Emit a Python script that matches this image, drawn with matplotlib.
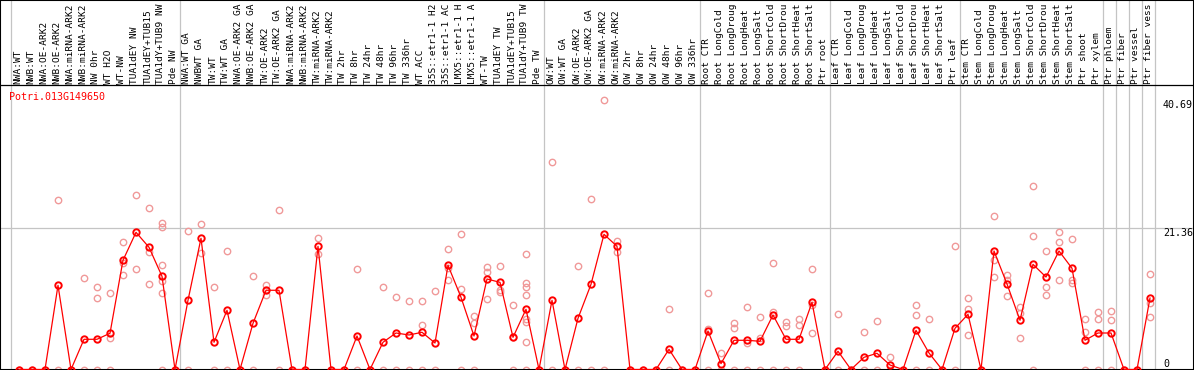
import matplotlib
matplotlib.use("Agg")
import matplotlib.pyplot as plt
import matplotlib.transforms as mtransforms

gene = "Potri.013G149650"

labels = [
    "NWA:WT", "NWB:WT", "NWA:OE-ARK2", "NWB:OE-ARK2", "NWA:miRNA-ARK2", "NWB:miRNA-ARK2",
    "NW 0hr", "WT H2O", "WT-NW", "TUA1dEY NW", "TUA1dEY+TUB15", "TUA1dY+TUB9 NW", "Pde NW",
    "NWA:WT GA", "NWBWT GA", "TW:WT", "TW:WT GA", "NWA:OE-ARK2 GA", "NWB:OE-ARK2 GA",
    "TW:OE-ARK2", "TW:OE-ARK2 GA", "NWA:miRNA-ARK2", "NWB:miRNA-ARK2", "TW:miRNA-ARK2",
    "TW:miRNA-ARK2", "TW 2hr", "TW 8hr", "TW 24hr", "TW 48hr", "TW 96hr", "TW 336hr",
    "WT ACC", "35S::etr1-1 H2", "35S::etr1-1 AC", "LMX5::etr1-1 H", "LMX5::etr1-1 A",
    "WT-TW", "TUA1dEY TW", "TUA1dEY+TUB15", "TUA1dY+TUB9 TW", "Pde TW",
    "OW:WT", "OW:WT GA", "OW:OE-ARK2", "OW:OE-ARK2 GA", "OW:miRNA-ARK2", "OW:miRNA-ARK2",
    "OW 2hr", "OW 8hr", "OW 24hr", "OW 48hr", "OW 96hr", "OW 336hr",
    "Root CTR", "Root LongCold", "Root LongDroug", "Root LongHeat", "Root LongSalt",
    "Root ShortCold", "Root ShortDrou", "Root ShortHeat", "Root ShortSalt", "Ptr root",
    "Leaf CTR", "Leaf LongCold", "Leaf LongDroug", "Leaf LongHeat", "Leaf LongSalt",
    "Leaf ShortCold", "Leaf ShortDrou", "Leaf ShortHeat", "Leaf ShortSalt", "Ptr leaf",
    "Stem CTR", "Stem LongCold", "Stem LongDroug", "Stem LongHeat", "Stem LongSalt",
    "Stem ShortCold", "Stem ShortDrou", "Stem ShortHeat", "Stem ShortSalt", "Ptr shoot",
    "Ptr xylem", "Ptr phloem", "Ptr fiber", "Ptr vessel", "Ptr fiber vess",
]

means = [
    0, 0, 0, 12.71, 0, 4.56, 4.56, 5.47, 16.49, 20.71, 18.45, 14.07, 0,
    10.45, 19.81, 4.11, 8.94, 0, 6.97, 11.96, 11.96, 0, 0, 18.60, 0, 0,
    5.06, 0, 4.11, 5.51, 5.21, 5.62, 4.00, 15.73, 10.90, 5.06, 13.66, 13.16,
    4.86, 9.09, 0,
    10.45, 0, 7.73, 12.86, 20.41, 18.60, 0, 0, 0, 3.05, 0, 0,
    5.81, 0.88, 4.41, 4.41, 4.26, 8.23, 4.56, 4.56, 10.14, 0,
    2.75, 0, 1.84, 2.45, 0.68, 0, 5.92, 2.49, 0, 6.22,
    8.33, 0, 17.89, 12.91, 7.43, 15.88, 13.96, 17.89, 15.28, 4.41,
    5.51, 5.51, 0, 0, 10.79,
]

reps = [
    [0], [0], [0], [25.54, 0], [0], [13.77, 0], [12.41, 10.75, 0], [11.50, 4.80, 0],
    [19.20, 16.03, 14.22], [26.30, 15.13], [24.34, 17.78, 12.86],
    [22.07, 21.47, 15.73, 13.41, 11.50, 0], [0],
    [20.91, 0], [21.97, 17.54], [12.41, 0], [17.84, 0], [0], [14.07, 0],
    [12.76, 11.20], [24.03, 0], [0], [0], [19.81, 17.39], [0], [0],
    [15.13, 0], [0], [12.41, 0], [10.94, 0], [10.30, 0], [10.30, 6.67, 0], [11.81, 0],
    [18.15, 15.28, 13.51], [20.41, 12.11, 0], [8.08, 6.97, 0], [15.47, 14.76, 10.60],
    [15.58, 12.00, 11.70], [9.69, 4.90, 0],
    [17.39, 13.01, 12.41, 11.20, 7.62, 7.13, 4.20, 0], [0],
    [31.28, 0], [0], [15.58, 0], [25.69, 0], [40.69, 0], [19.40, 17.78], [0], [0], [0],
    [9.09, 0], [0], [0],
    [11.50, 6.07, 0], [2.45, 0], [6.97, 6.31, 0], [9.39, 3.96, 0], [7.88, 4.80, 0],
    [16.08, 8.73, 0], [7.22, 6.52, 0], [7.62, 6.72, 0], [15.17, 9.74, 5.51], [0],
    [8.38, 0], [0], [5.62, 0], [7.32, 0], [1.84, 0], [0], [9.74, 8.23, 0], [7.62, 0],
    [0], [18.60, 0],
    [10.75, 9.09, 5.21], [0], [23.13, 16.53, 14.01], [14.27, 13.51, 11.05],
    [9.39, 8.48, 4.71], [27.66, 20.15, 0], [17.89, 12.41, 11.29], [20.76, 19.25, 13.47],
    [19.70, 13.51, 13.01], [7.62, 5.71, 0],
    [8.73, 7.62, 0], [8.83, 7.43, 0], [0], [0], [14.37, 9.99, 7.93],
]

# first index of each sample group (last entry closes the final group)
group_starts = [0, 13, 41, 53, 63, 73, 84, 85, 86, 87, 88]
ytick_vals = [0, 21.36, 40.69]

W, H = 1194, 370
x0, dx = 19, 13          # pixel x of first sample, pixel step
y0, dy = 369.5, 6.624    # pixel y (from top) of zero, pixels per unit

fig = plt.figure(figsize=(W / 100, H / 100), dpi=100)
ax = fig.add_axes([0, 0, 1, 1])
ax.set_xlim(-x0 / dx, (W - x0) / dx)
ax.set_ylim(-(H - y0) / dy, y0 / dy)
ax.set_xticks([])
ax.set_yticks([])
for s in ax.spines.values():
    s.set_color("black")
    s.set_linewidth(1.5)

grey = "#c4c4c4"
for g in group_starts:
    ax.axvline(g - 0.62, color=grey, lw=0.9, zorder=1)
for v in ytick_vals[1:-1]:
    ax.axhline(v, color=grey, lw=0.9, zorder=1)

# header separator line and rotated sample labels
header_y = (y0 - 85) / dy
ax.axhline(header_y, color="black", lw=0.9, zorder=4)
for i, lab in enumerate(labels):
    ax.text(i - 0.08, header_y + 0.15, lab, rotation=90, ha="center", va="bottom",
            family="DejaVu Sans Mono", fontsize=6.8, color="black")

ax.text(-0.77, (y0 - 97) / dy, gene, ha="left", va="center",
        family="DejaVu Sans Mono", fontsize=7.2, color="red")

xlab = (1163 - x0) / dx
for v in ytick_vals:
    ax.text(xlab, v + (0.05 if v == 0 else 0), f"{v:g}" if v == 0 else f"{v:.2f}",
            ha="left", va="bottom" if v == 0 else "top",
            family="DejaVu Sans Mono", fontsize=7.2, color="black")

# replicate points
for i, vals in enumerate(reps):
    ax.plot([i] * len(vals), vals, "o", ms=4.6, mfc="none", mec="#f09999",
            mew=1.0, zorder=2)

# mean profile
ax.plot(range(len(means)), means, color="red", lw=0.9, marker="o", ms=4.6,
        mfc="none", mec="red", mew=1.4, zorder=3)

fig.savefig("out.png", dpi=100)
